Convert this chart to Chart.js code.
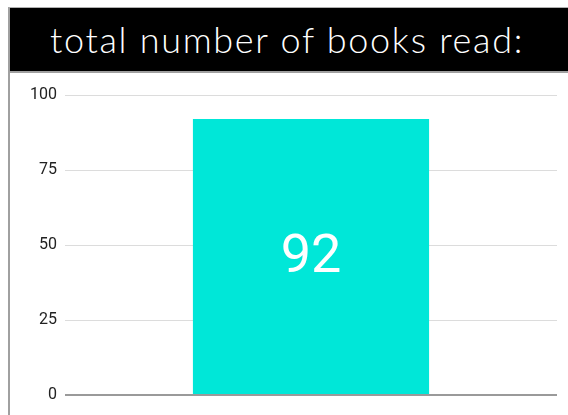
<!DOCTYPE html>
<html>
<head>
<meta charset="utf-8">
<script src="https://cdn.jsdelivr.net/npm/chart.js@4.4.0/dist/chart.umd.min.js"></script>
<style>
  html, body { margin: 0; padding: 0; background: #fff; }
  #frame {
    position: absolute; left: 8px; top: 7px; width: 560px; height: 408px;
    border-left: 2px solid #a0a0a0; border-top: 1px solid #b0b0b0;
    box-sizing: border-box; overflow: hidden;
  }
  #header {
    height: 63px; background: #000; color: #fff;
    border-bottom: 2px solid #a0a0a0;
    font-family: "Lato", sans-serif; font-weight: 300; font-size: 36px;
    letter-spacing: 1.7px;
    line-height: 62px; text-align: center; padding-right: 4px;
  }
  #wrap { position: absolute; left: 0; top: 65px; width: 558px; height: 343px; }
</style>
</head>
<body>
<div id="frame">
  <div id="header">total number of books read:</div>
  <div id="wrap"><canvas id="booksChart"></canvas></div>
</div>
<script>
const categories = ['books'];
const booksRead = [92];
const yMax = 100;
const yStep = 25;

// value label in middle of bar
const valueLabel = {
  id: 'valueLabel',
  afterDatasetsDraw(chart) {
    const ctx = chart.ctx;
    const meta = chart.getDatasetMeta(0);
    ctx.save();
    ctx.fillStyle = '#fff';
    ctx.font = '54px Roboto';
    ctx.textAlign = 'center';
    ctx.textBaseline = 'middle';
    meta.data.forEach((bar, i) => {
      const mid = (bar.y + bar.base) / 2;
      ctx.fillText(booksRead[i], bar.x, mid + 2);
    });
    ctx.restore();
  }
};

const ctx = document.getElementById('booksChart').getContext('2d');

new Chart(ctx, {
  type: 'bar',
  data: {
    labels: categories,
    datasets: [{
      data: booksRead,
      backgroundColor: '#00e7d8',
      barPercentage: 0.6,
      categoryPercentage: 0.8
    }]
  },
  options: {
    responsive: true,
    maintainAspectRatio: false,
    animation: false,
    layout: { padding: { top: 22, right: 11, bottom: 21, left: 0 } },
    plugins: {
      legend: { display: false },
      tooltip: { enabled: false }
    },
    scales: {
      x: { display: false },
      y: {
        min: 0,
        max: yMax,
        afterFit: (scale) => { scale.width = 55; },
        border: { display: false },
        ticks: {
          stepSize: yStep,
          padding: 8,
          color: '#222',
          font: { family: 'Roboto', size: 16 }
        },
        grid: {
          drawTicks: false,
          color: (c) => c.tick && c.tick.value === 0 ? '#9a9a9a' : '#dcdcdc',
          lineWidth: (c) => c.tick && c.tick.value === 0 ? 2 : 1
        }
      }
    }
  },
  plugins: [valueLabel]
});
</script>
</body>
</html>
